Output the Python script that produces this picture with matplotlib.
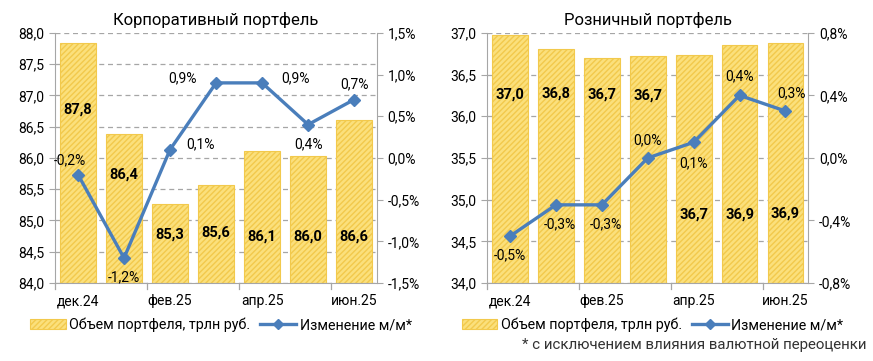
import numpy as np
import matplotlib.pyplot as plt
from matplotlib.ticker import FuncFormatter, MultipleLocator
from matplotlib.patches import Patch
from matplotlib.lines import Line2D

plt.rcParams['font.family'] = ['Roboto', 'DejaVu Sans']
plt.rcParams['hatch.color'] = '#EDBE2C'
plt.rcParams['hatch.linewidth'] = 1.0

# --- DATA ---
months = ['дек.24', 'янв.25', 'фев.25', 'мар.25', 'апр.25', 'май.25', 'июн.25']
tick_labels = ['дек.24', '', 'фев.25', '', 'апр.25', '', 'июн.25']

corp_volume = [87.83, 86.38, 85.26, 85.57, 86.11, 86.03, 86.60]
corp_volume_labels = ['87,8', '86,4', '85,3', '85,6', '86,1', '86,0', '86,6']
corp_change = [-0.2, -1.2, 0.1, 0.9, 0.9, 0.4, 0.7]

retail_volume = [36.97, 36.81, 36.70, 36.72, 36.74, 36.86, 36.88]
retail_volume_labels = ['37,0', '36,8', '36,7', '36,7', '36,7', '36,9', '36,9']
retail_change = [-0.5, -0.3, -0.3, 0.0, 0.1, 0.4, 0.3]

# label placement (layout only)
corp_bar_label_y = [86.77, 85.73, 84.78, 84.80, 84.74, 84.74, 84.75]
corp_chg_offset = [(-6, 10), (0, -14), (22, 4), (-24, 3), (24, 3), (0, -14), (0, 11)]
retail_bar_label_y = [36.26, 36.27, 36.26, 36.25, 34.82, 34.82, 34.83]
retail_chg_offset = [(0, -14), (3, -14), (3, -14), (0, 13), (0, -15), (0, 14), (4, 13)]

BAR_FACE = '#FBE07C'
BAR_EDGE = '#F2C94C'
LINE_COLOR = '#4A7EBB'
GRID_COLOR = '#A6A6A6'
AXIS_COLOR = '#A6A6A6'


def comma(fmt):
    return FuncFormatter(lambda v, p: (fmt % v).replace('.', ',').replace('-0,0', '0,0'))


def draw_panel(fig, rect, title, volume, vol_labels, change, ylim, ystep, y2lim, y2step,
               bar_label_y, chg_offset, legend_x):
    ax = fig.add_axes(rect)
    x = np.arange(len(volume))
    ax.bar(x, volume, width=0.78, color=BAR_FACE, edgecolor=BAR_EDGE, linewidth=0.8,
           hatch='//////', zorder=2)
    ax.set_ylim(*ylim)
    ax.set_xlim(-0.5, len(volume) - 0.5)
    ax.yaxis.set_major_locator(MultipleLocator(ystep))
    ax.yaxis.set_major_formatter(comma('%.1f'))
    ax.grid(axis='y', linestyle=(0, (4, 3)), color=GRID_COLOR, linewidth=0.9, zorder=0)
    ax.set_axisbelow(True)
    for i, (lab, ly) in enumerate(zip(vol_labels, bar_label_y)):
        ax.text(i, ly, lab, ha='center', va='center', fontsize=10.5, fontweight='bold',
                color='black', zorder=5)

    # ticks at every second category boundary, labels at categories
    ax.set_xticks(x)
    ax.set_xticklabels(tick_labels, fontsize=10)
    ax.tick_params(axis='x', length=0, pad=8)
    for b in np.arange(-0.5, len(volume), 2):
        ax.plot([b, b], [0, -0.025], transform=ax.get_xaxis_transform(),
                color=AXIS_COLOR, lw=0.9, clip_on=False)
    ax.tick_params(axis='y', labelsize=10, length=4, color=AXIS_COLOR, direction='out')

    for s in ['top', 'right']:
        ax.spines[s].set_visible(False)
    ax.spines['left'].set_color(AXIS_COLOR)
    ax.spines['bottom'].set_color(AXIS_COLOR)

    ax2 = ax.twinx()
    ax2.plot(x, change, color=LINE_COLOR, lw=2.4, marker='D', markersize=6.5,
             markerfacecolor=LINE_COLOR, markeredgecolor=LINE_COLOR, zorder=4)
    ax2.set_ylim(*y2lim)
    ax2.yaxis.set_major_locator(MultipleLocator(y2step))
    ax2.yaxis.set_major_formatter(comma('%.1f%%'))
    ax2.tick_params(axis='y', labelsize=10, length=4, color=AXIS_COLOR)
    for s in ['top', 'left', 'bottom']:
        ax2.spines[s].set_visible(False)
    ax2.spines['right'].set_color(AXIS_COLOR)
    for i, (v, off) in enumerate(zip(change, chg_offset)):
        lab = ('%.1f%%' % v).replace('.', ',')
        ax2.annotate(lab, (i, v), xytext=off, textcoords='offset points',
                     ha='center', va='center', fontsize=10, zorder=6)

    ax.set_title(title, fontsize=12, pad=6)

    handles = [Patch(facecolor=BAR_FACE, edgecolor=BAR_EDGE, hatch='//////', lw=0.8),
               Line2D([0], [0], color=LINE_COLOR, lw=2.4, marker='D', markersize=5.5)]
    ax.legend(handles, ['Объем портфеля, трлн руб.', 'Изменение м/м*'],
              loc='upper center', bbox_to_anchor=(legend_x, -0.115), ncol=2, frameon=False,
              fontsize=10.3, handlelength=2.5, handletextpad=0.25, columnspacing=0.7,
              borderaxespad=0)
    return ax, ax2


fig = plt.figure(figsize=(8.73, 3.61), dpi=100)

draw_panel(fig, [0.063, 0.216, 0.369, 0.693], 'Корпоративный портфель',
           corp_volume, corp_volume_labels, corp_change,
           (84.0, 88.0), 0.5, (-1.5, 1.5), 0.5, corp_bar_label_y, corp_chg_offset, 0.515)

draw_panel(fig, [0.558, 0.216, 0.368, 0.693], 'Розничный портфель',
           retail_volume, retail_volume_labels, retail_change,
           (34.0, 37.0), 0.5, (-0.8, 0.8), 0.4, retail_bar_label_y, retail_chg_offset, 0.515)

fig.text(0.993, 0.045, '* с исключением влияния валютной переоценки', ha='right',
         va='center', fontsize=10.8, color='#333333')

fig.savefig('out.png', dpi=100)
